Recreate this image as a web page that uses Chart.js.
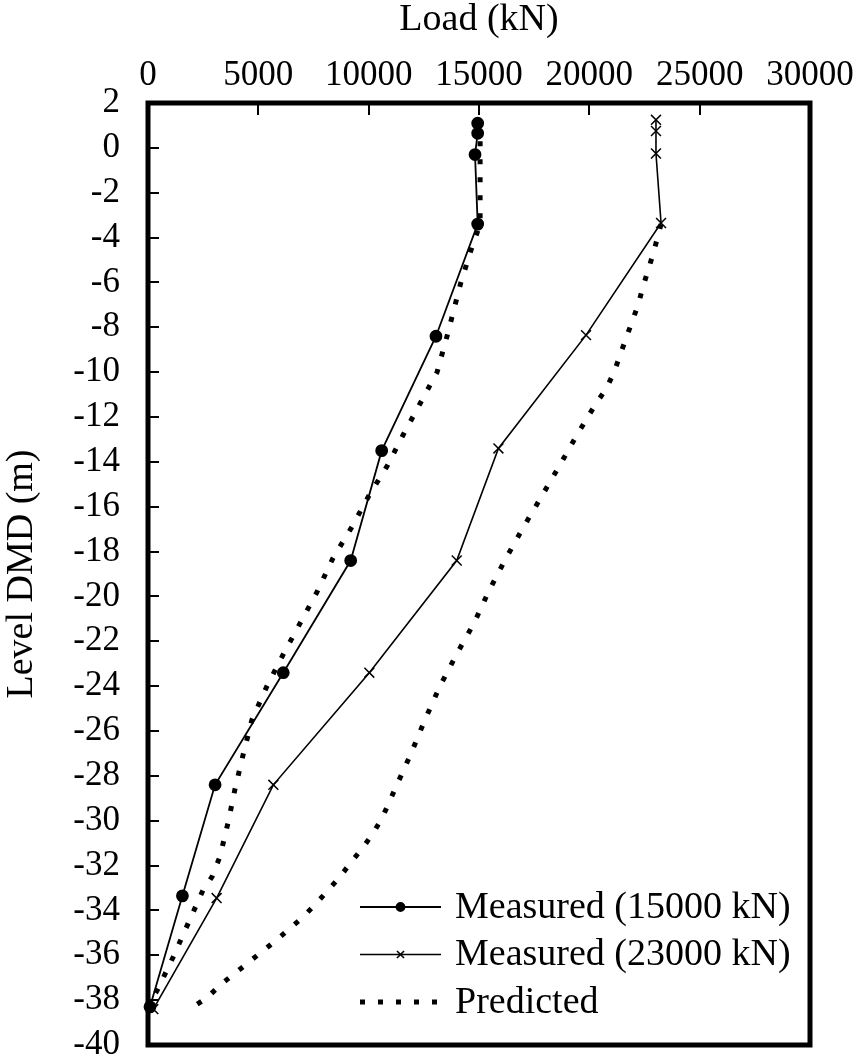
<!DOCTYPE html>
<html>
<head>
<meta charset="utf-8">
<script src="https://cdn.jsdelivr.net/npm/chart.js@4.4.0/dist/chart.umd.min.js"></script>
<style>
  html, body { margin: 0; padding: 0; background: #fff; overflow: hidden; }
</style>
</head>
<body>
<canvas id="loadChart" width="859" height="1061"></canvas>
<script>
// measured load distribution, 15000 kN test
var m15Load  = [14940, 14940, 14820, 14940, 13050, 10590, 9185, 6130, 3040, 1560, 90];
var m15Level = [1.1, 0.65, -0.3, -3.4, -8.4, -13.5, -18.4, -23.4, -28.4, -33.35, -38.3];

// measured load distribution, 23000 kN test
var m23Load  = [23020, 23020, 23020, 23250, 19850, 15880, 13990, 10030, 5680, 3110, 240];
var m23Level = [1.25, 0.75, -0.25, -3.35, -8.35, -13.4, -18.4, -23.4, -28.4, -33.45, -38.4];

// predicted curves
var p15Load  = [15050, 15050, 14640, 14180, 13550, 13100, 12330, 11560, 10830, 10015, 9240, 8380, 7660, 6890, 6120, 5390, 4710, 4300, 3940, 3625, 3260, 2900, 2490, 1810, 1130, 450, 170];
var p15Level = [0.3, -3.4, -4.55, -6.0, -8.4, -10.0, -11.4, -12.8, -14.2, -15.5, -16.9, -18.3, -19.8, -21.2, -22.6, -24.0, -25.5, -27.1, -28.6, -30.1, -31.6, -32.5, -33.1, -34.6, -36.1, -37.5, -38.0];

var p23Load  = [23250, 22900, 22430, 22210, 21660, 21120, 20760, 20300, 19440, 18630, 17800, 16990, 16220, 15450, 14770, 14000, 13230, 12550, 11920, 11280, 10600, 10200, 9740, 9240, 8700, 8160, 7610, 7020, 6430, 5850, 5210, 4580, 3940, 3300, 2670, 2040];
var p23Level = [-3.4, -4.7, -6.2, -7.0, -8.5, -10.0, -10.75, -11.4, -12.8, -14.2, -15.6, -16.95, -18.3, -19.75, -21.2, -22.55, -24.0, -25.5, -27.0, -28.4, -29.9, -30.55, -31.2, -31.8, -32.5, -33.1, -33.7, -34.3, -34.8, -35.3, -35.8, -36.3, -36.8, -37.3, -37.9, -38.3];

var seriesNames = ['Measured (15000 kN)', 'Measured (23000 kN)', 'Predicted', 'Predicted'];

function pts(xs, ys) {
  return xs.map(function (x, i) { return { x: x, y: ys[i] }; });
}

var serif = '"Liberation Serif", "Times New Roman", serif';

// thick frame + inward tick marks
var framePlugin = {
  id: 'frame',
  afterDatasetsDraw: function (chart) {
    var ctx = chart.ctx, a = chart.chartArea;
    var xs = chart.scales.x, ys = chart.scales.y;
    ctx.save();
    ctx.strokeStyle = '#000';
    ctx.lineWidth = 2;
    ctx.beginPath();
    xs.ticks.forEach(function (t) {
      if (t.value <= xs.min || t.value >= xs.max) return;
      var px = Math.round(xs.getPixelForValue(t.value));
      ctx.moveTo(px, a.top);
      ctx.lineTo(px, a.top + 12);
    });
    ys.ticks.forEach(function (t) {
      if (t.value <= ys.min || t.value >= ys.max) return;
      var py = Math.round(ys.getPixelForValue(t.value));
      ctx.moveTo(a.left, py);
      ctx.lineTo(a.left + 11, py);
    });
    ctx.stroke();
    ctx.lineWidth = 5;
    ctx.strokeRect(a.left, a.top, a.right - a.left, a.bottom - a.top);
    ctx.restore();
  }
};

// legend inside the plot, bottom right
var legendPlugin = {
  id: 'innerLegend',
  afterDraw: function (chart) {
    var ctx = chart.ctx;
    var rows = [0, 1, 2];
    var x0 = 360, x1 = 441, textX = 455, y0 = 907, dy = 47.5;
    ctx.save();
    rows.forEach(function (di, r) {
      var ds = chart.data.datasets[di];
      var y = y0 + r * dy;
      ctx.strokeStyle = ds.borderColor;
      ctx.lineWidth = ds.borderWidth;
      ctx.setLineDash(ds.borderDash || []);
      ctx.beginPath();
      ctx.moveTo(x0, y);
      ctx.lineTo(x1, y);
      ctx.stroke();
      ctx.setLineDash([]);
      if (ds.pointRadius > 0) {
        ctx.fillStyle = ds.pointBackgroundColor;
        ctx.strokeStyle = ds.pointBorderColor;
        Chart.helpers.drawPoint(ctx, {
          pointStyle: ds.pointStyle, radius: ds.pointStyle === 'circle' ? 4 : 5,
          borderWidth: 1.3, rotation: 0
        }, (x0 + x1) / 2, y);
      }
      ctx.fillStyle = '#000';
      ctx.font = '38px ' + serif;
      ctx.textAlign = 'left';
      ctx.textBaseline = 'middle';
      ctx.fillText(ds.label, textX, y + 1);
    });
    ctx.restore();
  }
};

var ctx = document.getElementById('loadChart').getContext('2d');
var loadChart = new Chart(ctx, {
  type: 'scatter',
  data: {
    datasets: [{
      label: seriesNames[0],
      data: pts(m15Load, m15Level),
      showLine: true,
      borderColor: '#000',
      borderWidth: 1.8,
      pointStyle: 'circle',
      pointRadius: 5.5,
      pointBackgroundColor: '#000',
      pointBorderColor: '#000',
      clip: false
    }, {
      label: seriesNames[1],
      data: pts(m23Load, m23Level),
      showLine: true,
      borderColor: '#000',
      borderWidth: 1.6,
      pointStyle: 'crossRot',
      pointRadius: 7,
      pointBorderWidth: 1.5,
      pointBackgroundColor: '#000',
      pointBorderColor: '#000',
      clip: false
    }, {
      label: seriesNames[2],
      data: pts(p15Load, p15Level),
      showLine: true,
      borderColor: '#000',
      borderWidth: 5,
      borderDash: [5, 13],
      borderCapStyle: 'butt',
      pointRadius: 0
    }, {
      label: seriesNames[3],
      data: pts(p23Load, p23Level),
      showLine: true,
      borderColor: '#000',
      borderWidth: 5,
      borderDash: [5, 13],
      borderCapStyle: 'butt',
      pointRadius: 0
    }]
  },
  options: {
    responsive: false,
    animation: false,
    layout: { padding: { left: 0, top: 0, right: 49, bottom: 16 } },
    plugins: {
      legend: { display: false },
      tooltip: { enabled: false }
    },
    scales: {
      x: {
        type: 'linear',
        position: 'top',
        min: 0,
        max: 30000,
        grid: { display: false, drawTicks: false },
        border: { display: false },
        ticks: {
          stepSize: 5000,
          padding: 6,
          autoSkip: false,
          maxRotation: 0,
          color: '#000',
          font: { family: serif, size: 35 },
          callback: function (v) { return String(v); }
        },
        title: {
          display: true,
          text: 'Load (kN)',
          color: '#000',
          font: { family: serif, size: 38, lineHeight: 1 },
          padding: { top: 1, bottom: 0 }
        },
        afterFit: function (s) {
          s.height = 103;
          s.paddingLeft = 0;
          s.paddingRight = 0;
        }
      },
      y: {
        type: 'linear',
        min: -40,
        max: 2,
        grid: { display: false, drawTicks: false },
        border: { display: false },
        ticks: {
          stepSize: 2,
          padding: 28,
          autoSkip: false,
          color: '#000',
          font: { family: serif, size: 35 },
          callback: function (v) { return String(v); }
        },
        title: {
          display: true,
          text: 'Level DMD (m)',
          color: '#000',
          font: { family: serif, size: 38, lineHeight: 1 },
          padding: { top: 3, bottom: 0 }
        },
        afterFit: function (s) {
          s.width = 148;
          s.paddingTop = 0;
          s.paddingBottom = 0;
        }
      }
    }
  },
  plugins: [framePlugin, legendPlugin]
});
</script>
</body>
</html>
